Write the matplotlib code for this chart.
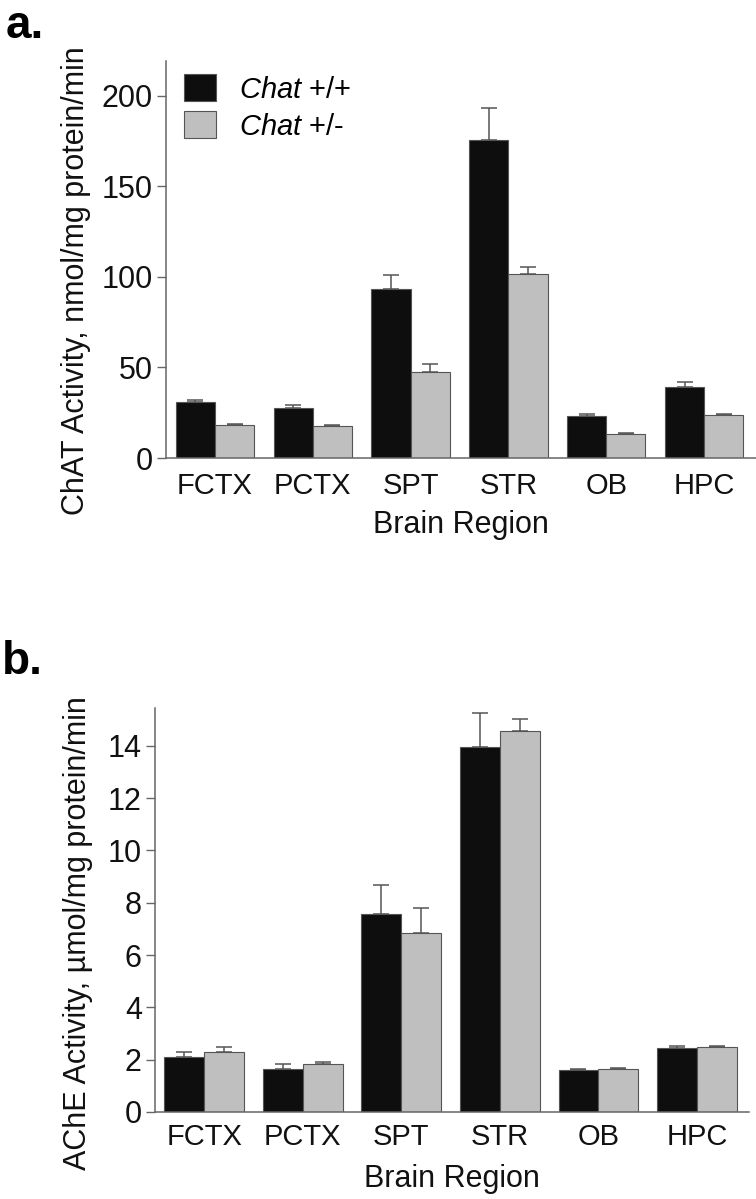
import matplotlib
matplotlib.use("Agg")
import matplotlib.pyplot as plt
import numpy as np

plt.rcParams['font.family'] = ['Liberation Sans', 'DejaVu Sans']
plt.rcParams['mathtext.fontset'] = 'custom'
plt.rcParams['mathtext.it'] = 'Liberation Sans:italic'
plt.rcParams['mathtext.rm'] = 'Liberation Sans'

regions = ['FCTX', 'PCTX', 'SPT', 'STR', 'OB', 'HPC']
series_names = [r'$\it{Chat}$ +/+', r'$\it{Chat}$ +/-']

# panel a: ChAT activity (nmol/mg protein/min)
chat_wt = [31.0, 27.6, 93.4, 175.7, 23.2, 39.2]
chat_wt_err = [0.8, 1.7, 7.5, 17.3, 1.2, 2.8]
chat_het = [18.2, 17.7, 47.5, 101.7, 13.3, 24.0]
chat_het_err = [0.6, 0.5, 4.5, 3.9, 0.3, 0.5]

# panel b: AChE activity (umol/mg protein/min)
ache_wt = [2.10, 1.66, 7.56, 13.97, 1.60, 2.44]
ache_wt_err = [0.20, 0.18, 1.10, 1.30, 0.05, 0.08]
ache_het = [2.30, 1.82, 6.83, 14.58, 1.64, 2.48]
ache_het_err = [0.20, 0.08, 0.96, 0.46, 0.03, 0.03]

BLACK = '#0e0e0e'
GRAY = '#bfbfbf'
EDGE = '#555555'
AXC = '#666666'
FS = 21


def draw_panel(ax, wt, wt_err, het, het_err, width, ylim, yticks, ylabel, pad, lpad):
    x = np.arange(len(regions))
    z = np.zeros(len(regions))
    err_kw = dict(ecolor=EDGE, elinewidth=1.1, capsize=5.5, capthick=1.1)
    ax.bar(x - width / 2, wt, width, color=BLACK, edgecolor=EDGE, linewidth=0.8,
           yerr=[z, wt_err], error_kw=err_kw, label=series_names[0])
    ax.bar(x + width / 2, het, width, color=GRAY, edgecolor=EDGE, linewidth=0.8,
           yerr=[z, het_err], error_kw=err_kw, label=series_names[1])
    ax.set_xlim(-0.5, 5.53)
    ax.set_ylim(*ylim)
    ax.set_yticks(yticks)
    ax.set_xticks(x)
    ax.set_xticklabels(regions, fontsize=FS, color='#111111')
    ax.tick_params(axis='x', length=0, pad=pad)
    ax.tick_params(axis='y', length=6.5, width=1, color=AXC, labelsize=FS + 1,
                   labelcolor='#111111', pad=3)
    for s in ['top', 'right']:
        ax.spines[s].set_visible(False)
    for s in ['left', 'bottom']:
        ax.spines[s].set_color(AXC)
        ax.spines[s].set_linewidth(1.1)
    ax.set_xlabel('Brain Region', fontsize=FS + 1, color='#111111', labelpad=lpad)
    ax.set_ylabel(ylabel, fontsize=FS + 1, color='#111111')


fig = plt.figure(figsize=(7.56, 11.99), dpi=100)

ax_a = fig.add_axes([0.2196, 0.618, 0.7804, 0.331])
draw_panel(ax_a, chat_wt, chat_wt_err, chat_het, chat_het_err, 0.4,
           (0, 219), [0, 50, 100, 150, 200],
           'ChAT Activity, nmol/mg protein/min', 10, 7)
ax_a.yaxis.set_label_coords(-0.127, 0.446)
ax_a.legend(loc='upper left', bbox_to_anchor=(-0.014, 1.033), frameon=False,
            fontsize=FS, handlelength=1.1, handleheight=1.05,
            labelspacing=0.25, handletextpad=0.8)

ax_b = fig.add_axes([0.205, 0.0726, 0.786, 0.337])
draw_panel(ax_b, ache_wt, ache_wt_err, ache_het, ache_het_err, 0.405,
           (0, 15.45), [0, 2, 4, 6, 8, 10, 12, 14],
           'AChE Activity, \u00b5mol/mg protein/min', 8, 9)
ax_b.yaxis.set_label_coords(-0.104, 0.443)

fig.text(0.008, 0.997, 'a.', fontsize=33, fontweight='bold', va='top', ha='left')
fig.text(0.002, 0.466, 'b.', fontsize=33, fontweight='bold', va='top', ha='left')

fig.savefig('out.png', dpi=100)
